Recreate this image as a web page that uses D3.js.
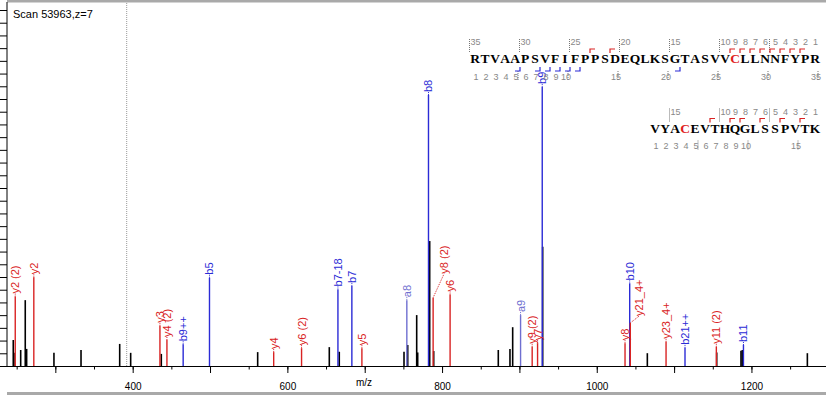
<!DOCTYPE html>
<html>
<head>
<meta charset="utf-8">
<script src="https://cdn.jsdelivr.net/npm/d3@7"></script>
<style>
  body { margin: 0; background: #fff; }
  svg { display: block; font-family: "Liberation Sans", Arial, sans-serif; }
</style>
</head>
<body>
<div class="chart"></div>
<script>
// Global Variables
let width = 826;
let height = 395;
let left = 7;
let base = 366;

// unannotated peaks (m/z, relative intensity)
let peakMz = [245.6, 246.5, 255.2, 261.1, 262.9, 298.2, 333.2, 383.2, 397.4, 437.0,
  561.6, 654.2, 667.1, 750.8, 755.6, 767.2, 768.5, 784.0, 789.2, 872.7,
  887.8, 891.3, 930.1, 1065.4, 1155.1, 1186.5, 1188.2, 1272.3];
let peakInt = [7.3, 3.7, 4.5, 18.5, 4.8, 3.7, 4.5, 6.2, 3.7, 3.4,
  3.9, 5.3, 4.0, 4.0, 5.9, 14.3, 3.8, 35.1, 4.2, 4.5,
  4.8, 10.9, 33.5, 3.6, 3.8, 4.3, 4.5, 3.6];

// annotated fragment ions
let ionLabel = ["y2 (2)", "y2", "y3", "y4 (2)", "b9++", "b5", "y4", "y6 (2)", "b7-18", "b7",
  "y5", "a8", "b8", "y8 (2)", "y6", "a9", "y9 (2)", "y7", "b9", "y8",
  "b10", "y21_4+", "y23_4+", "b21++", "y11 (2)", "b11"];
let ionMz = [248.16, 272.17, 435.24, 444.28, 465.26, 499.30, 582.31, 618.35, 665.37, 683.38,
  696.35, 754.45, 782.45, 788.45, 810.39, 901.50, 916.51, 923.48, 929.52, 1036.56,
  1042.60, 1043.4, 1089.6, 1114.1, 1154.62, 1189.67];
let ionInt = [19.5, 24.9, 11.3, 7.3, 6.1, 24.8, 3.9, 5.0, 21.5, 22.5,
  5.0, 18.5, 76.1, 19.2, 20.1, 14.3, 5.4, 6.4, 78.4, 6.4,
  23.2, 12.1, 6.8, 5.1, 5.4, 5.9];
let ionType = ["y", "y", "y", "y", "b", "b", "y", "y", "b", "b",
  "y", "a", "b", "y", "y", "a", "y", "y", "b", "y",
  "b", "y", "y", "b", "y", "b"];

// x tick values
let minorTicks = d3.range(250, 1300, 50);
let majorTicks = d3.range(300, 1300, 100);
let labelTicks = [400, 600, 800, 1000, 1200];

// sequences and observed cleavages
let chain1 = "RTVAAPSVFIFPPSDEQLKSGTASVVCLLNNFYPR";
let chain2 = "VYACEVTHQGLSSPVTK";
let chain1B = [5, 7, 8, 9, 10, 11, 21];
let chain1Y = [12, 14, 26, 27, 28, 29, 30, 31, 32, 33];
let chain2B = [];
let chain2Y = [6, 8, 9, 11, 13, 15];

let colors = { y: "#d92323", b: "#2b2bd6", a: "#6f6fd0", p: "#000" };

let svg = d3.select(".chart").append("svg")
  .attr("width", width).attr("height", height);

let x = d3.scaleLinear().domain([237.5, 1296.4]).range([left, width]);
let y = d3.scaleLinear().domain([0, 100]).range([base, 10]);

// frame
svg.append("rect").attr("x", left).attr("y", 0).attr("width", width - left).attr("height", 2.5).attr("fill", "#a9a9a9");
svg.append("rect").attr("x", left).attr("y", 392).attr("width", width - left).attr("height", 3).attr("fill", "#a9a9a9");

// y axis (ticks only)
let yAxis = svg.append("g").attr("transform", `translate(${left},0)`)
  .call(d3.axisLeft(y).tickValues(d3.range(29).map((i) => (i * 100) / 28)).tickSize(7).tickFormat(""));
yAxis.select(".domain").remove();
svg.append("line").attr("x1", left).attr("x2", left).attr("y1", 2).attr("y2", base + 0.5)
  .attr("stroke", "#000").attr("stroke-width", 1);

// x axis
let xMinor = svg.append("g").attr("transform", `translate(0,${base})`)
  .call(d3.axisBottom(x).tickValues(minorTicks).tickSize(3.5).tickFormat(""));
xMinor.select(".domain").remove();
let xMajor = svg.append("g").attr("transform", `translate(0,${base})`)
  .call(d3.axisBottom(x).tickValues(majorTicks).tickSize(7)
    .tickFormat((d) => (labelTicks.includes(d) ? d : "")));
xMajor.select(".domain").remove();
xMajor.selectAll("text").attr("font-size", 10).attr("font-family", "Liberation Sans, Arial").attr("dy", "1.35em");
svg.append("line").attr("x1", left).attr("x2", width).attr("y1", base + 0.5).attr("y2", base + 0.5)
  .attr("stroke", "#000");
svg.append("text").attr("x", 364).attr("y", 386).attr("text-anchor", "middle")
  .attr("font-size", 10).text("m/z");

// dotted marker line
svg.append("line").attr("x1", 126.7).attr("x2", 126.7).attr("y1", 3).attr("y2", base)
  .attr("stroke", "#999").attr("stroke-dasharray", "1,1");

svg.append("text").attr("x", 13).attr("y", 18).attr("font-size", 11).text("Scan 53963,z=7");

// unannotated peaks
svg.append("g").selectAll("line").data(peakMz).enter().append("line")
  .attr("x1", (d) => x(d)).attr("x2", (d) => x(d))
  .attr("y1", base).attr("y2", (d, i) => y(peakInt[i]))
  .attr("stroke", colors.p).attr("stroke-width", 1.6);

// annotated peaks
let ions = ionMz.map((d, i) => ({ mz: d, val: ionInt[i], label: ionLabel[i], type: ionType[i] }));
svg.append("g").selectAll("line").data(ions).enter().append("line")
  .attr("x1", (d) => x(d.mz)).attr("x2", (d) => x(d.mz))
  .attr("y1", base).attr("y2", (d) => y(d.val))
  .attr("stroke", (d) => colors[d.type]).attr("stroke-width", 1.4);

// labels; two are pushed aside with a dotted leader
let shifted = { "y8 (2)": [11, 21], "y21_4+": [9, 4] };
ions.forEach((d) => {
  let px = x(d.mz);
  let py = y(d.val);
  let off = shifted[d.label] || [0, 0];
  let lx = px + off[0];
  let ly = py - off[1];
  svg.append("line").attr("x1", px).attr("y1", py).attr("x2", lx).attr("y2", ly - 3)
    .attr("stroke", colors[d.type]).attr("stroke-dasharray", "1,1");
  svg.append("text")
    .attr("transform", `translate(${lx + 4},${ly - 3}) rotate(-90)`)
    .attr("font-size", 11).attr("fill", colors[d.type]).text(d.label);
});

// sequence map
function drawChain(seq, x0, yb, bCuts, yCuts, topNums, botNums) {
  let g = svg.append("g");
  let n = seq.length;
  let cx = (i) => x0 + i * 10;
  seq.split("").forEach((c, i) => {
    g.append("text").attr("x", cx(i)).attr("y", yb).attr("text-anchor", "middle")
      .attr("font-family", "Liberation Serif, serif").attr("font-weight", "bold")
      .attr("font-size", 13.5).attr("fill", c === "C" ? "#e02020" : "#000").text(c);
  });
  // top numbering (from C-terminus)
  topNums.forEach((k) => {
    let i = n - k;
    g.append("text").attr("x", cx(i) + 0.5).attr("y", yb - 18).attr("text-anchor", "middle")
      .attr("font-size", 9).attr("fill", "#888").text(k);
    if (k % 5 === 0) {
      g.append("line").attr("x1", cx(i) - 5.5).attr("x2", cx(i) - 5.5)
        .attr("y1", yb - 24).attr("y2", yb - 10)
        .attr("stroke", "#777").attr("stroke-dasharray", "1,1");
    }
  });
  // bottom numbering (from N-terminus)
  botNums.forEach((k) => {
    let i = k - 1;
    g.append("text").attr("x", cx(i) + 1).attr("y", yb + 16.5).attr("text-anchor", "middle")
      .attr("font-size", 9).attr("fill", "#888").text(k);
    if (k % 5 === 0) {
      g.append("line").attr("x1", cx(i) + 3).attr("x2", cx(i) + 3)
        .attr("y1", yb + 8).attr("y2", yb + 17)
        .attr("stroke", "#777").attr("stroke-dasharray", "1,1");
    }
  });
  // b cleavage marks below
  bCuts.forEach((k) => {
    let bx = x0 + (k - 0.5) * 10;
    g.append("path").attr("d", `M${bx},${yb + 4} V${yb + 8} H${bx - 5}`)
      .attr("fill", "none").attr("stroke", colors.b).attr("stroke-width", 1.2);
  });
  // y cleavage marks above
  yCuts.forEach((k) => {
    let bx = x0 + (k - 0.5) * 10;
    g.append("path").attr("d", `M${bx},${yb - 10} V${yb - 14} H${bx + 5}`)
      .attr("fill", "none").attr("stroke", colors.y).attr("stroke-width", 1.2);
  });
}

drawChain(chain1, 475, 63, chain1B, chain1Y,
  [1, 2, 3, 4, 5, 6, 7, 8, 9, 10, 15, 20, 25, 30, 35],
  [1, 2, 3, 4, 5, 6, 7, 8, 9, 10, 15, 20, 25, 30, 35]);
drawChain(chain2, 655, 132.5, chain2B, chain2Y,
  [1, 2, 3, 4, 5, 6, 7, 8, 9, 10, 15],
  [1, 2, 3, 4, 5, 6, 7, 8, 9, 10, 15]);
</script>
</body>
</html>
